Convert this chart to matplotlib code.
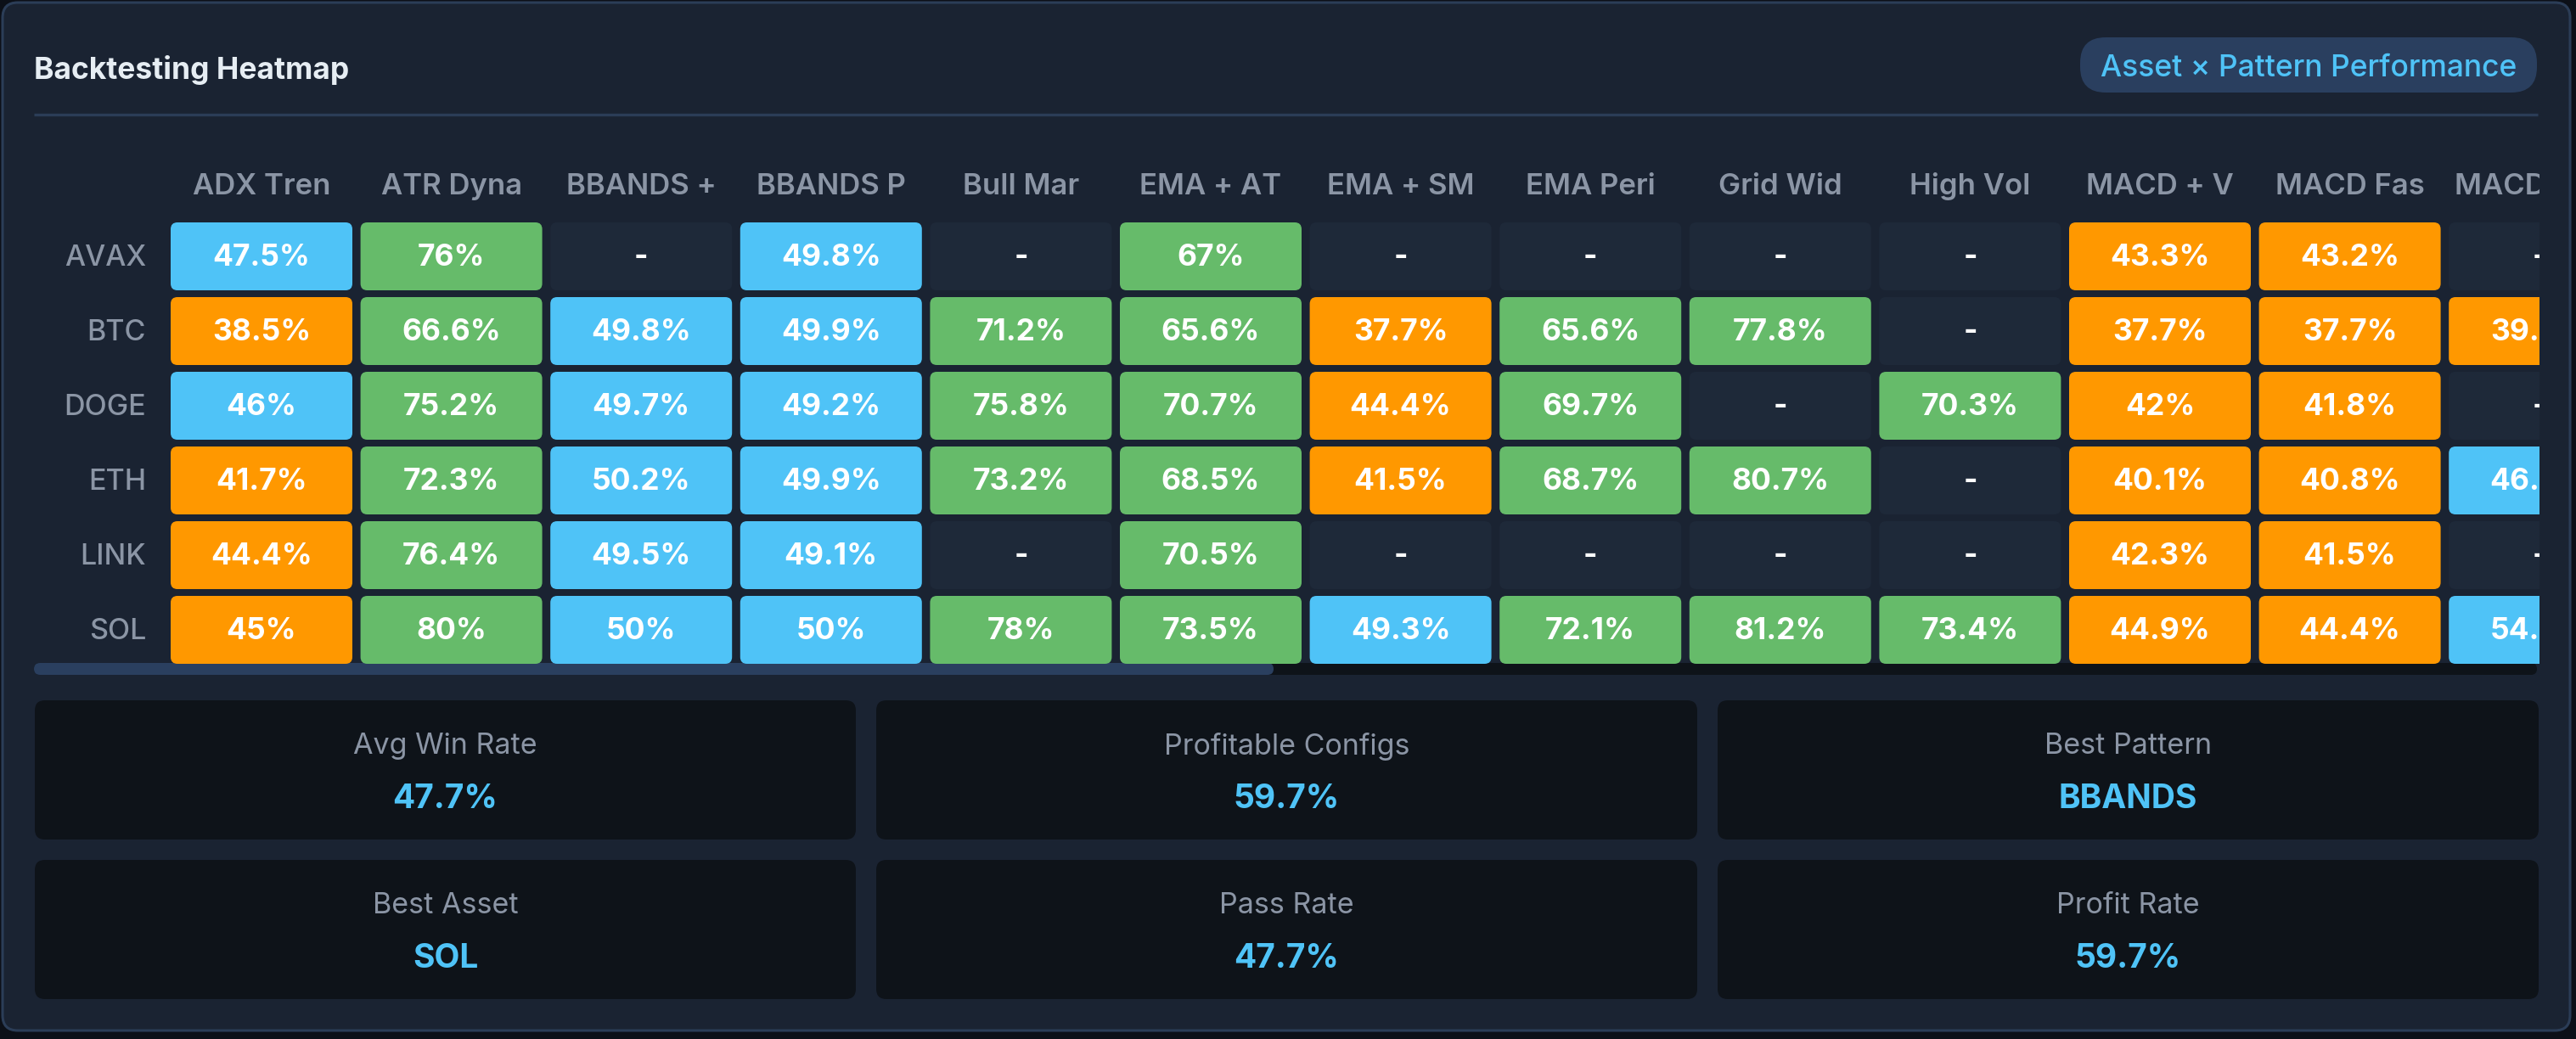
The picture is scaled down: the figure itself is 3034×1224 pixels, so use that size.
import matplotlib.pyplot as plt
from matplotlib.patches import FancyBboxPatch

plt.rcParams['font.family'] = ['Inter', 'DejaVu Sans']

# data
assets = ["AVAX", "BTC", "DOGE", "ETH", "LINK", "SOL"]
patterns = ["ADX Tren", "ATR Dyna", "BBANDS +", "BBANDS P", "Bull Mar", "EMA + AT",
            "EMA + SM", "EMA Peri", "Grid Wid", "High Vol", "MACD + V", "MACD Fas",
            "MACD Mom"]
# win rate % per asset (rows) and pattern (cols), None = no result
win_rates = [
    [47.5, 76, None, 49.8, None, 67, None, None, None, None, 43.3, 43.2, None],
    [38.5, 66.6, 49.8, 49.9, 71.2, 65.6, 37.7, 65.6, 77.8, None, 37.7, 37.7, 39.9],
    [46, 75.2, 49.7, 49.2, 75.8, 70.7, 44.4, 69.7, None, 70.3, 42, 41.8, None],
    [41.7, 72.3, 50.2, 49.9, 73.2, 68.5, 41.5, 68.7, 80.7, None, 40.1, 40.8, 46.6],
    [44.4, 76.4, 49.5, 49.1, None, 70.5, None, None, None, None, 42.3, 41.5, None],
    [45, 80, 50, 50, 78, 73.5, 49.3, 72.1, 81.2, 73.4, 44.9, 44.4, 54.6],
]
stat_labels = ["Avg Win Rate", "Profitable Configs", "Best Pattern",
               "Best Asset", "Pass Rate", "Profit Rate"]
stat_values = ["47.7%", "59.7%", "BBANDS", "SOL", "47.7%", "59.7%"]

# colours
OUTER = "#0c1018"
PANEL = "#1a2332"
BORDER = "#2b3d57"
EMPTY = "#1e2939"
CARD = "#0e1319"
MUTED = "#8b95a5"
ACCENT = "#4fc3f7"
ORANGE = "#ff9800"
GREEN = "#66bb6a"
BLUE = "#4fc3f7"


def cell_color(v):
    if v is None:
        return EMPTY
    if v >= 60:
        return GREEN
    if v > 45:
        return BLUE
    return ORANGE


W, H = 3034, 1224
fig = plt.figure(figsize=(W / 100, H / 100), dpi=100)
fig.patch.set_facecolor(OUTER)

# background axes in pixel units
bg = fig.add_axes([0, 0, 1, 1])
bg.set_xlim(0, W)
bg.set_ylim(H, 0)
bg.axis("off")

bg.add_patch(FancyBboxPatch((3, 3), 3024, 1211, boxstyle="round,pad=0,rounding_size=18",
                            fc=PANEL, ec=BORDER, lw=2.2))
bg.text(40, 82, "Backtesting Heatmap", color="#e6edf3", fontsize=25.5,
        fontweight="bold", va="center", ha="left")
bg.add_patch(FancyBboxPatch((2450, 44), 538, 65, boxstyle="round,pad=0,rounding_size=30",
                            fc="#2a3f5f", ec="none"))
bg.text(2719, 81, "Asset \u00d7 Pattern Performance", color=ACCENT, fontsize=25.5,
        fontweight="medium", va="center", ha="center")
bg.plot([40, 2989], [134.5, 134.5], color=BORDER, lw=2.4, solid_capstyle="butt")

# heatmap axes: x in column units, y in row units
col_pitch, row_pitch = 223.6, 88.0
cell_w, cell_h = 214 / col_pitch, 80 / row_pitch
left_px, right_px, top_px, bot_px, grid_top = 201, 2991, 190, 782, 262
hm = fig.add_axes([left_px / W, 1 - bot_px / H, (right_px - left_px) / W, (bot_px - top_px) / H])
hm.set_xlim(0, (right_px - left_px) / col_pitch)
hm.set_ylim((bot_px - grid_top) / row_pitch, -(grid_top - top_px) / row_pitch)
hm.axis("off")
hm.patch.set_alpha(0)

for i, name in enumerate(patterns):
    hm.text(i + cell_w / 2, -(grid_top - 220) / row_pitch, name, color=MUTED,
            fontsize=25, fontweight="semibold", ha="center", va="center", clip_on=True)

for j, asset in enumerate(assets):
    hm.text(-(left_px - 172) / col_pitch, j + cell_h / 2 + 0.02, asset, color=MUTED,
            fontsize=24.5, fontweight="medium", ha="right", va="center", clip_on=False)
    for i, v in enumerate(win_rates[j]):
        p = FancyBboxPatch((i, j), cell_w, cell_h,
                           boxstyle="round,pad=0,rounding_size=%f" % (8 / col_pitch),
                           mutation_aspect=col_pitch / row_pitch,
                           fc=cell_color(v), ec="none", clip_on=True)
        hm.add_patch(p)
        label = "-" if v is None else "{:g}%".format(v)
        hm.text(i + cell_w / 2, j + cell_h / 2 + 0.02, label, color="white", fontsize=25.5,
                fontweight="bold", ha="center", va="center", clip_on=True)

# scrollbar
bg.add_patch(FancyBboxPatch((40, 781), 2948, 14, boxstyle="round,pad=0,rounding_size=7",
                            fc=CARD, ec="none", zorder=5))
bg.add_patch(FancyBboxPatch((40, 781), 1460, 14, boxstyle="round,pad=0,rounding_size=7",
                            fc="#2a3f5f", ec="none", zorder=6))

# stat cards
card_w, card_h = 967, 164
for k, (lab, val) in enumerate(zip(stat_labels, stat_values)):
    r, c = divmod(k, 3)
    x0 = 41 + c * (card_w + 24)
    y0 = 825 + r * (card_h + 24)
    bg.add_patch(FancyBboxPatch((x0, y0), card_w, card_h,
                                boxstyle="round,pad=0,rounding_size=12", fc=CARD, ec="none"))
    bg.text(x0 + card_w / 2, y0 + 54, lab, color=MUTED, fontsize=24.5,
            ha="center", va="center")
    bg.text(x0 + card_w / 2, y0 + 117, val, color=ACCENT, fontsize=28,
            fontweight="bold", ha="center", va="center")

fig.savefig("out.png", dpi=100, facecolor=OUTER)
